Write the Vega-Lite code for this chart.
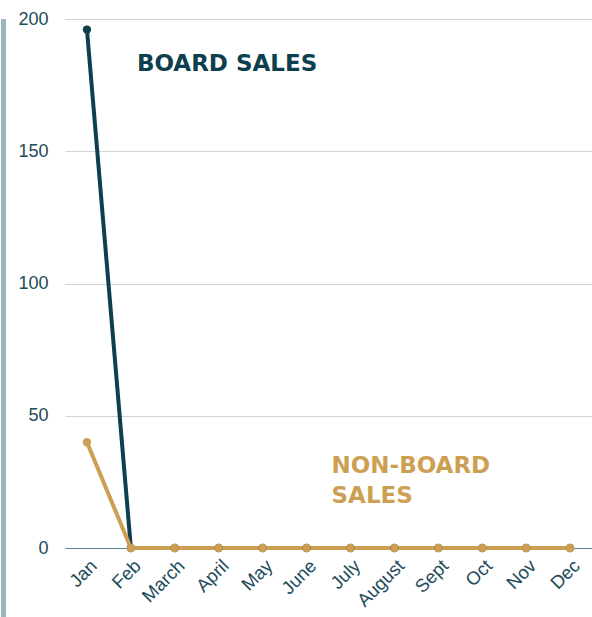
{
  "$schema": "https://vega.github.io/schema/vega-lite/v6.json",
  "padding": 0,
  "spacing": 10,
  "background": "white",
  "config": {"view": {"stroke": null}, "font": "Liberation Sans"},
  "hconcat": [
    {
      "width": 5,
      "height": 617,
      "view": {"fill": "#9fb5bd", "stroke": null},
      "data": {"values": [{}]},
      "mark": {"type": "point", "opacity": 0}
    },
    {
      "width": 527,
      "height": 529,
      "title": {"text": " ", "fontSize": 10, "offset": 0},
      "layer": [
        {
          "data": {
            "values": [
              {"month": "Jan", "series": "Board", "sales": 196},
              {"month": "Feb", "series": "Board", "sales": 0},
              {"month": "March", "series": "Board", "sales": 0},
              {"month": "April", "series": "Board", "sales": 0},
              {"month": "May", "series": "Board", "sales": 0},
              {"month": "June", "series": "Board", "sales": 0},
              {"month": "July", "series": "Board", "sales": 0},
              {"month": "August", "series": "Board", "sales": 0},
              {"month": "Sept", "series": "Board", "sales": 0},
              {"month": "Oct", "series": "Board", "sales": 0},
              {"month": "Nov", "series": "Board", "sales": 0},
              {"month": "Dec", "series": "Board", "sales": 0},
              {"month": "Jan", "series": "Non-board", "sales": 40},
              {"month": "Feb", "series": "Non-board", "sales": 0},
              {"month": "March", "series": "Non-board", "sales": 0},
              {"month": "April", "series": "Non-board", "sales": 0},
              {"month": "May", "series": "Non-board", "sales": 0},
              {"month": "June", "series": "Non-board", "sales": 0},
              {"month": "July", "series": "Non-board", "sales": 0},
              {"month": "August", "series": "Non-board", "sales": 0},
              {"month": "Sept", "series": "Non-board", "sales": 0},
              {"month": "Oct", "series": "Non-board", "sales": 0},
              {"month": "Nov", "series": "Non-board", "sales": 0},
              {"month": "Dec", "series": "Non-board", "sales": 0}
            ]
          },
          "mark": {"type": "line", "strokeWidth": 4, "point": {"filled": true, "size": 70}},
          "encoding": {
            "x": {
              "field": "month",
              "type": "ordinal",
              "sort": null,
              "scale": {"type": "point", "padding": 0.5},
              "axis": {
                "title": null,
                "labelAngle": -45,
                "labelFontSize": 18.5,
                "labelColor": "#1d4b5a",
                "ticks": false,
                "domain": true,
                "domainColor": "#5b8592",
                "labelPadding": 8,
                "grid": false
              }
            },
            "y": {
              "field": "sales",
              "type": "quantitative",
              "scale": {"domain": [0, 200], "nice": false},
              "axis": {
                "title": null,
                "values": [0, 50, 100, 150, 200],
                "labelFontSize": 18,
                "labelColor": "#1d4b5a",
                "labelPadding": 17,
                "domain": false,
                "ticks": false,
                "grid": true,
                "gridColor": "#cdd7da"
              }
            },
            "color": {
              "field": "series",
              "type": "nominal",
              "scale": {"domain": ["Board", "Non-board"], "range": ["#0d3f4f", "#cc9f52"]},
              "legend": null
            }
          }
        },
        {
          "data": {"values": [{"label": "BOARD SALES"}]},
          "mark": {"type": "text", "align": "left", "baseline": "middle", "dx": 6, "fontSize": 23, "fontWeight": "bold", "font": "DejaVu Sans", "letterSpacing": 4, "color": "#0d3f4f"},
          "encoding": {
            "x": {"datum": "Feb"},
            "y": {"datum": 183},
            "text": {"field": "label"}
          }
        },
        {
          "data": {"values": [{"label": "NON-BOARD\nSALES"}]},
          "mark": {"type": "text", "align": "left", "baseline": "middle", "dx": 25, "fontSize": 23, "fontWeight": "bold", "font": "DejaVu Sans", "letterSpacing": 4, "lineBreak": "\n", "lineHeight": 30, "color": "#cc9f52"},
          "encoding": {
            "x": {"datum": "June"},
            "y": {"datum": 31},
            "text": {"field": "label"}
          }
        }
      ]
    }
  ]
}
